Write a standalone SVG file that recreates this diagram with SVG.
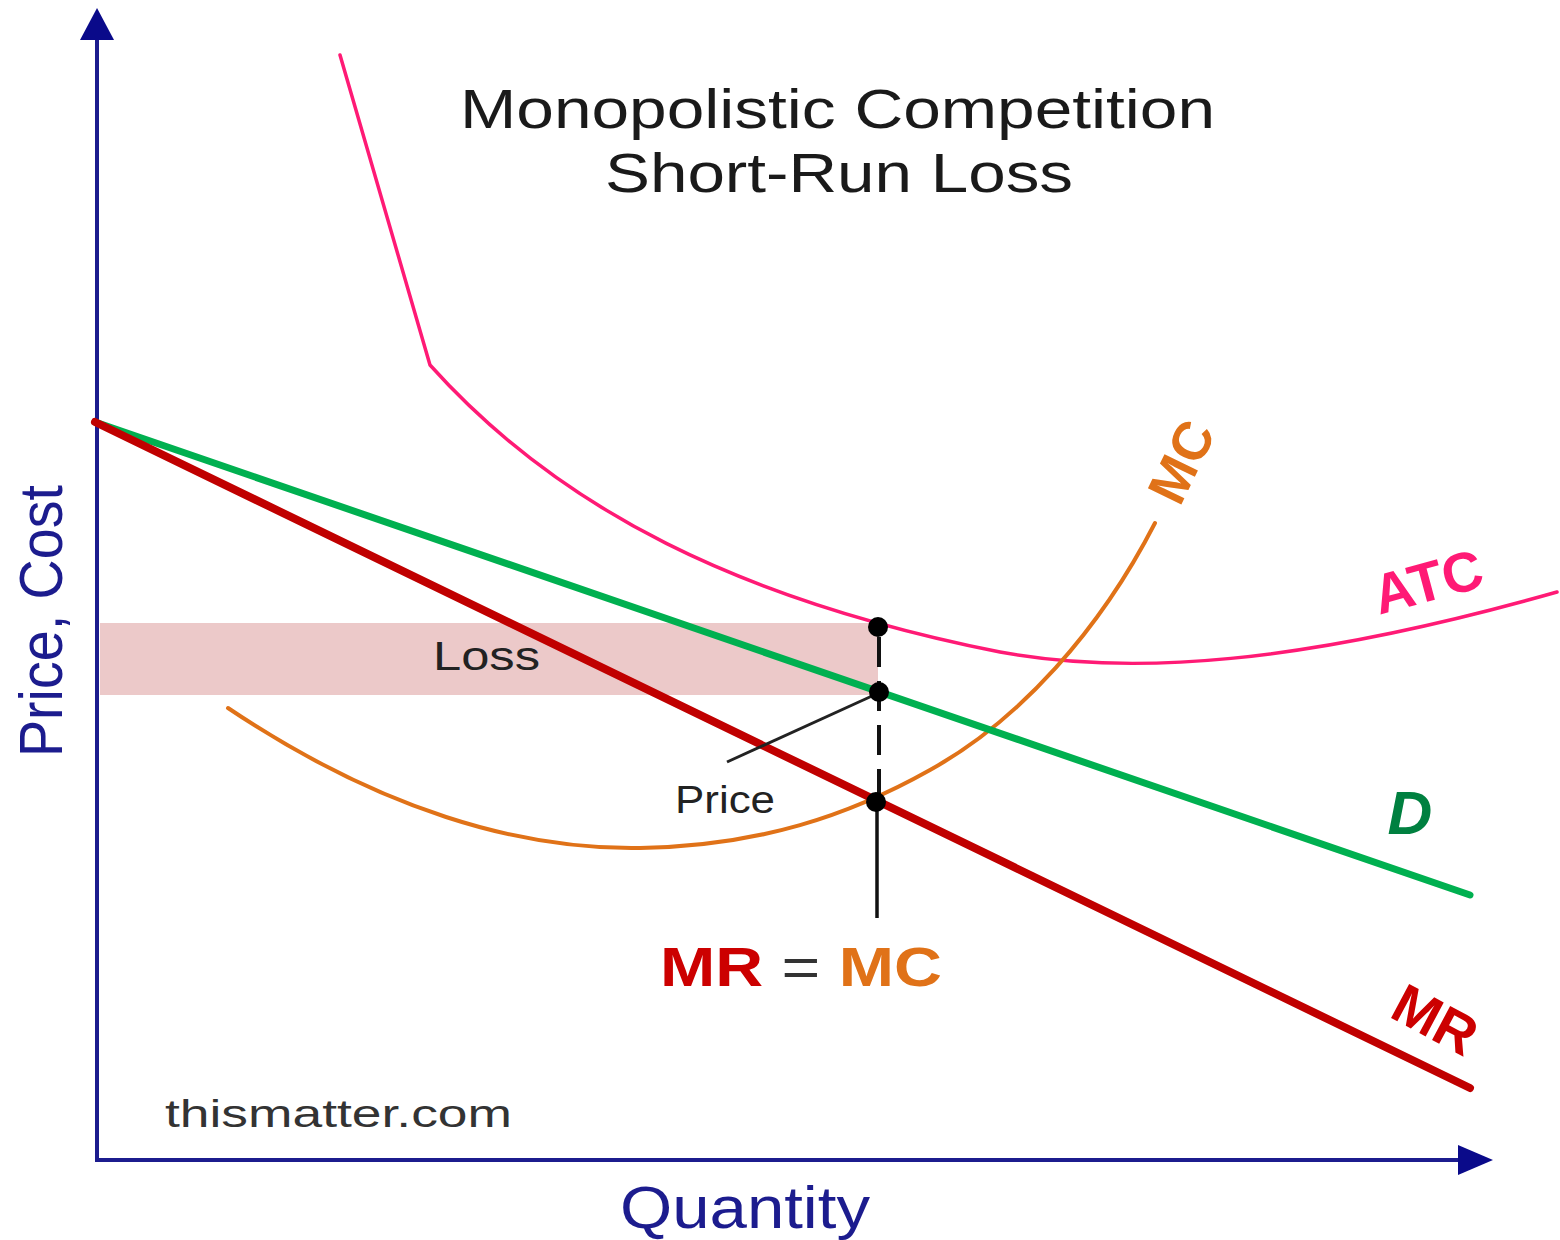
<svg xmlns="http://www.w3.org/2000/svg" width="1560" height="1240" viewBox="0 0 1560 1240">
<style>
text { font-family: "Liberation Sans", Arial, sans-serif; }
.axis { stroke: #1c1c8e; stroke-width: 4; fill: none; }
.curve { fill: none; stroke-linecap: round; stroke-linejoin: round; }
.dot { fill: #000; }
.ttl { font-size: 56px; fill: #1a1a1a; }
.axl { fill: #1c1c8e; }
.lab { font-weight: bold; }
</style>
<rect width="1560" height="1240" fill="#fff"/>
<g id="loss-area">
<rect x="100" y="623" width="778" height="72" fill="#ecc9c9"/>
<text x="433" y="670" font-size="40" fill="#222" textLength="107" lengthAdjust="spacingAndGlyphs">Loss</text>
</g>
<g id="axes">
<line class="axis" x1="97" y1="1160" x2="97" y2="38"/>
<polygon points="97,8 80,40 114,40" fill="#0a0a8a"/>
<line class="axis" x1="95" y1="1160" x2="1460" y2="1160"/>
<polygon points="1493,1160 1458,1145 1458,1175" fill="#0a0a8a"/>
<text class="axl" x="620" y="1228" font-size="60" textLength="250" lengthAdjust="spacingAndGlyphs">Quantity</text>
<text class="axl" transform="translate(62,757) rotate(-90)" font-size="62" textLength="272" lengthAdjust="spacingAndGlyphs">Price, Cost</text>
</g>
<g id="title">
<text class="ttl" x="460" y="128" textLength="755" lengthAdjust="spacingAndGlyphs">Monopolistic Competition</text>
<text class="ttl" x="605" y="192" textLength="468" lengthAdjust="spacingAndGlyphs">Short-Run Loss</text>
</g>
<g id="connectors">
<path id="atc" class="curve" stroke="#ff1a75" stroke-width="3.5" d="M340,55 L430,365 C560,510 740,600 1000,652 C1130,676 1300,665 1557,592"/>
<path id="mc" class="curve" stroke="#e07218" stroke-width="4" d="M228,708 C380,810 520,850 640,848 C760,846 850,815 930,770 C1020,720 1100,630 1155,523"/>
<line id="demand" class="curve" x1="95" y1="422" x2="1470" y2="895" stroke="#00b050" stroke-width="7"/>
<line id="mr" class="curve" x1="95" y1="422" x2="1470" y2="1088" stroke="#c00000" stroke-width="8"/>
<line x1="879" y1="637" x2="879" y2="798" stroke="#111" stroke-width="4" stroke-dasharray="30,14"/>
<line x1="877" y1="810" x2="877" y2="918" stroke="#111" stroke-width="3.5"/>
<line x1="727" y1="762" x2="872" y2="696" stroke="#222" stroke-width="3"/>
</g>
<g id="points">
<circle class="dot" cx="878" cy="627" r="10"/>
<circle class="dot" cx="879" cy="692" r="10"/>
<circle class="dot" cx="876" cy="802" r="10"/>
</g>
<g id="labels">
<text x="675" y="813" font-size="38" fill="#222" textLength="100" lengthAdjust="spacingAndGlyphs">Price</text>
<text x="660" y="986" font-size="56" class="lab" textLength="282" lengthAdjust="spacingAndGlyphs"><tspan fill="#cc0000">MR</tspan><tspan fill="#333" font-weight="normal"> = </tspan><tspan fill="#e07218">MC</tspan></text>
<text class="lab" transform="translate(1182,462) rotate(-64)" text-anchor="middle" dy="18" font-size="54" fill="#e07218">MC</text>
<text class="lab" transform="translate(1428,582) rotate(-15)" text-anchor="middle" dy="19" font-size="56" fill="#ff1a75">ATC</text>
<text class="lab" transform="translate(1410,812)" text-anchor="middle" dy="22" font-size="62" font-style="italic" fill="#008040">D</text>
<text class="lab" transform="translate(1435,1020) rotate(28)" text-anchor="middle" dy="19" font-size="56" fill="#cc0000">MR</text>
<text x="165" y="1127" font-size="38" fill="#333" textLength="347" lengthAdjust="spacingAndGlyphs">thismatter.com</text>
</g>
</svg>
